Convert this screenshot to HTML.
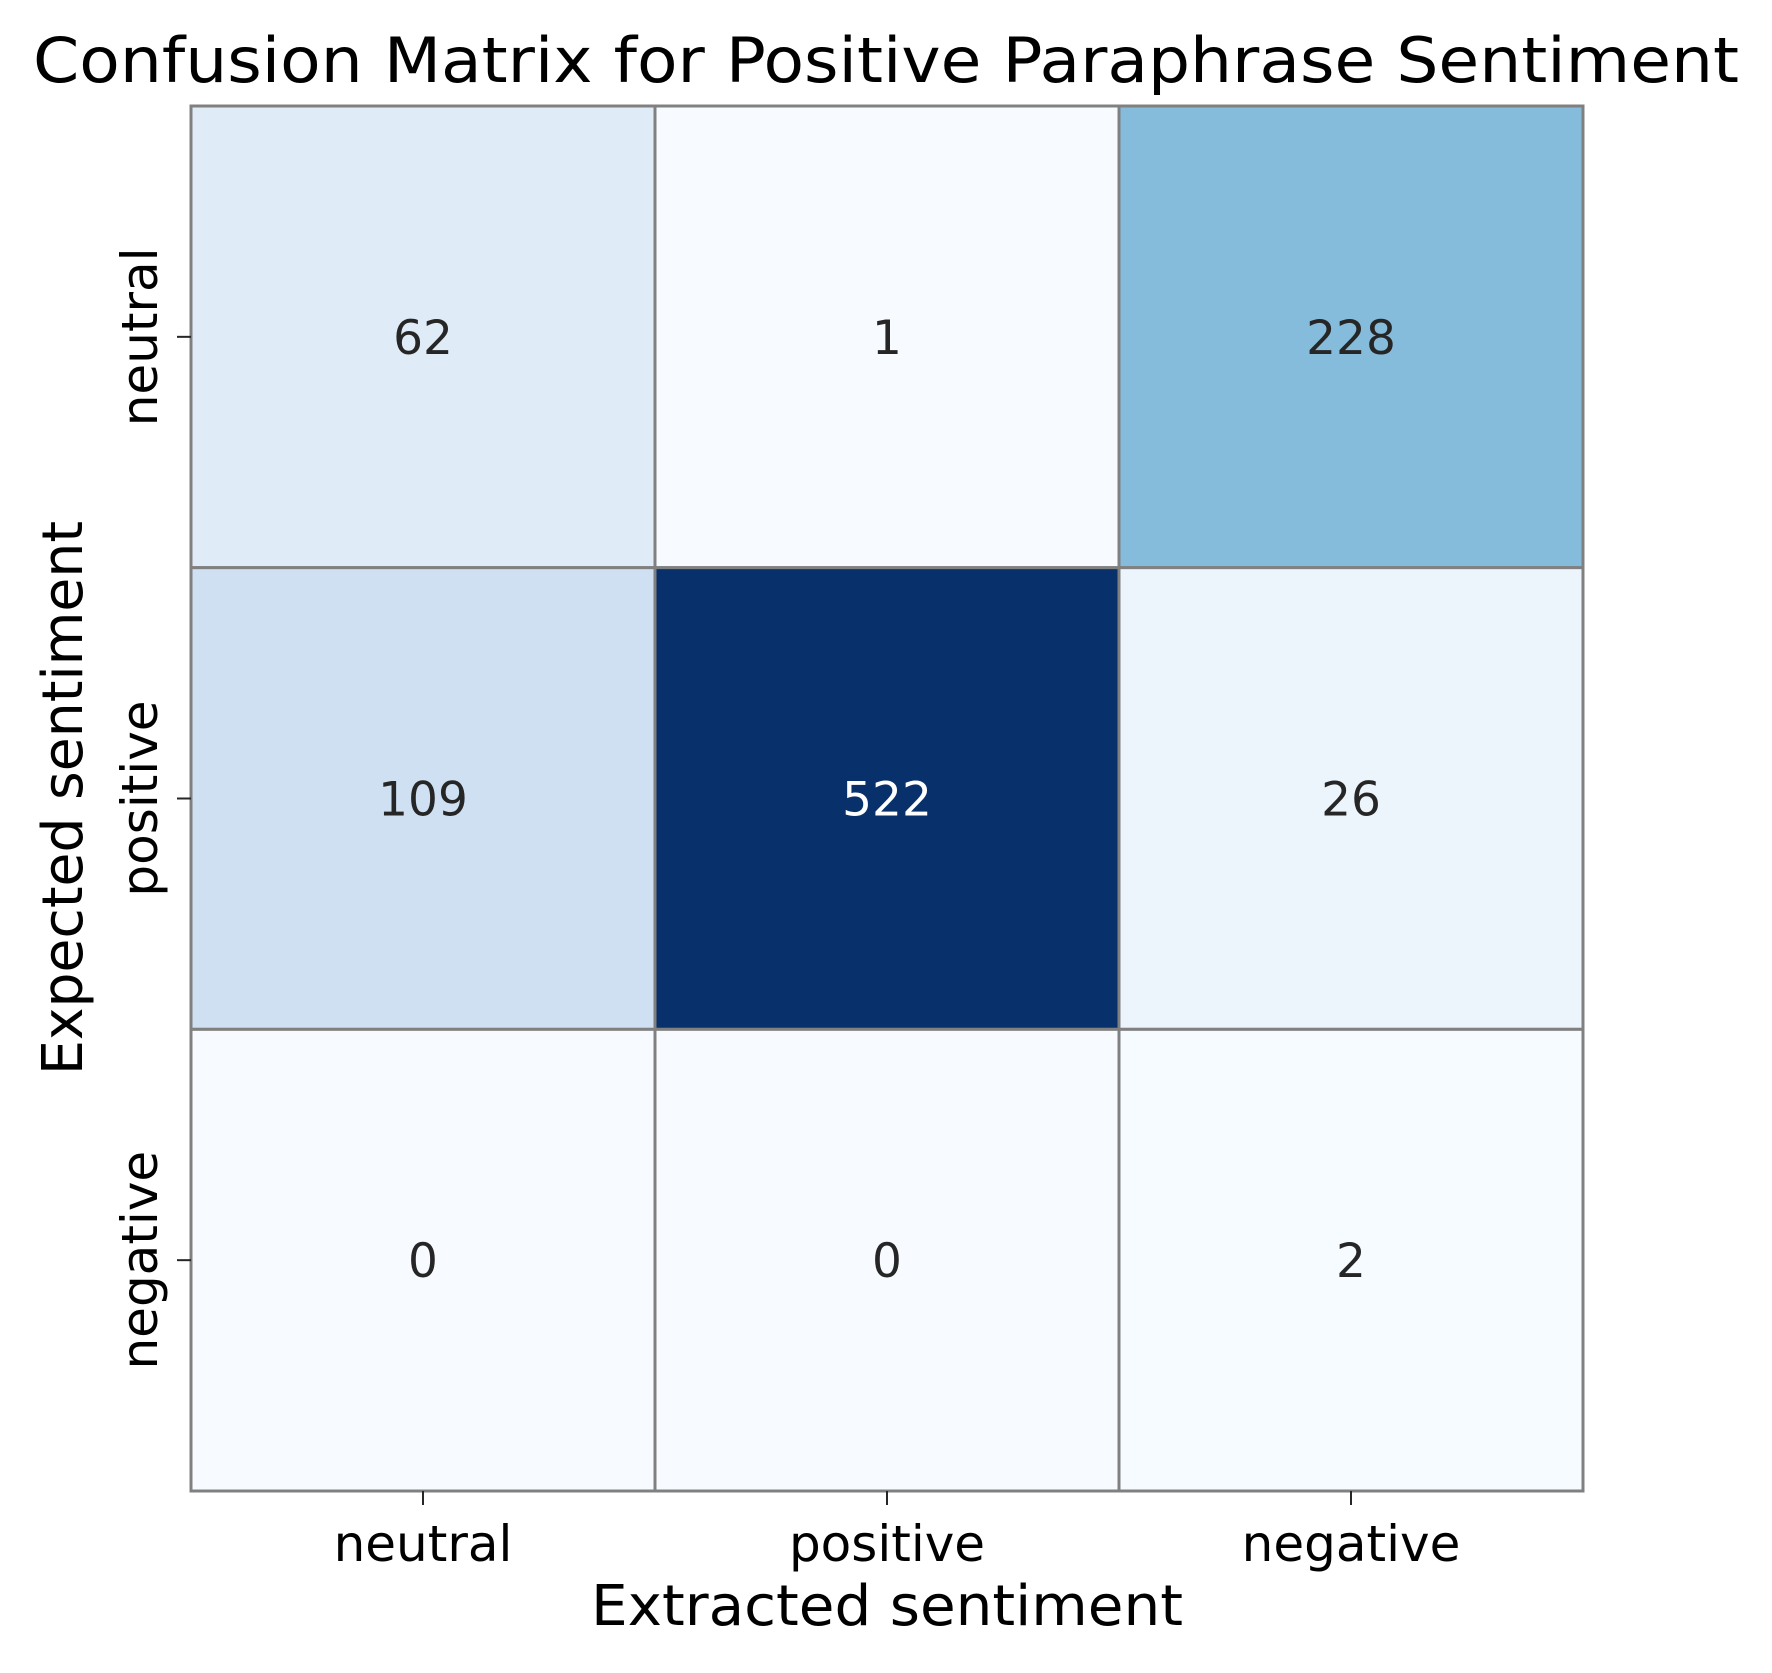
<!DOCTYPE html>
<html><head><meta charset="utf-8"><style>
html,body{margin:0;padding:0;background:#fff;}
svg{display:block;font-family:"DejaVu Sans","Liberation Sans",sans-serif;}
</style></head><body>
<svg id="chart" width="1772" height="1673" viewBox="0 0 1772 1673" xmlns="http://www.w3.org/2000/svg">
<text x="886" y="82" text-anchor="middle" font-size="62" fill="#000" textLength="1706" lengthAdjust="spacingAndGlyphs">Confusion Matrix for Positive Paraphrase Sentiment</text>
<g id="cells"></g>
<g id="ticks"></g>
<text x="887" y="1625" text-anchor="middle" font-size="56" fill="#000" textLength="592" lengthAdjust="spacingAndGlyphs">Extracted sentiment</text>
<text transform="translate(82,798) rotate(-90)" text-anchor="middle" font-size="56" fill="#000" textLength="554" lengthAdjust="spacingAndGlyphs">Expected sentiment</text>
</svg>
<script>
const rowLabels = ["neutral", "positive", "negative"];
const colLabels = ["neutral", "positive", "negative"];
const row0 = [62, 1, 228];
const row1 = [109, 522, 26];
const row2 = [0, 0, 2];
const matrix = [row0, row1, row2];

const NS = "http://www.w3.org/2000/svg";
const L = 191, T = 106, R = 1583, B = 1491;
const cw = (R - L) / colLabels.length, ch = (B - T) / rowLabels.length;
const xPos = i => L + i * cw;
const yPos = j => T + j * ch;
const stops = ["#f7fbff","#deebf7","#c6dbef","#9ecae1","#6baed6","#4292c6","#2171b5","#08519c","#08306b"];
function hex(h){return [1,3,5].map(k=>parseInt(h.substr(k,2),16));}
function blues(t){
  t = Math.max(0, Math.min(1, t));
  const p = t * (stops.length - 1), i = Math.min(Math.floor(p), stops.length - 2), f = p - i;
  const a = hex(stops[i]), b = hex(stops[i+1]);
  return "rgb(" + a.map((v,k)=>Math.round(v + (b[k]-v)*f)).join(",") + ")";
}
const all = matrix.flat();
const vmin = Math.min(...all), vmax = Math.max(...all);
const cells = document.getElementById("cells");
matrix.forEach((row, j) => row.forEach((v, i) => {
  const t = (v - vmin) / (vmax - vmin);
  const r = document.createElementNS(NS, "rect");
  
  
  r.setAttribute("x", xPos(i)); r.setAttribute("y", yPos(j));
  r.setAttribute("width", cw); r.setAttribute("height", ch);
  r.setAttribute("fill", blues(t)); r.setAttribute("stroke", "#808080"); r.setAttribute("stroke-width", "3");
  cells.appendChild(r);
  const tx = document.createElementNS(NS, "text");
  
  
  tx.setAttribute("x", xPos(i) + cw / 2); tx.setAttribute("y", yPos(j) + ch / 2 + 17);
  tx.setAttribute("text-anchor", "middle"); tx.setAttribute("font-size", "47");
  tx.setAttribute("fill", t > 0.5 ? "#ffffff" : "#262626");
  tx.textContent = v;
  cells.appendChild(tx);
}));
const ticks = document.getElementById("ticks");
colLabels.forEach((lab, i) => {
  const x = xPos(i) + cw / 2;
  const ln = document.createElementNS(NS, "line");
  
  
  ln.setAttribute("x1", x); ln.setAttribute("x2", x); ln.setAttribute("y1", B); ln.setAttribute("y2", B + 14);
  ln.setAttribute("stroke", "#262626"); ln.setAttribute("stroke-width", "2");
  ticks.appendChild(ln);
  const tx = document.createElementNS(NS, "text");
  
  
  tx.setAttribute("x", x); tx.setAttribute("y", 1561);
  tx.setAttribute("text-anchor", "middle"); tx.setAttribute("font-size", "50"); tx.setAttribute("fill", "#000");
  tx.textContent = lab;
  ticks.appendChild(tx);
});
rowLabels.forEach((lab, j) => {
  const y = yPos(j) + ch / 2;
  const ln = document.createElementNS(NS, "line");
  
  
  ln.setAttribute("x1", L - 14); ln.setAttribute("x2", L); ln.setAttribute("y1", y); ln.setAttribute("y2", y);
  ln.setAttribute("stroke", "#262626"); ln.setAttribute("stroke-width", "2");
  ticks.appendChild(ln);
  const tx = document.createElementNS(NS, "text");
  
  
  tx.setAttribute("transform", "translate(157," + y + ") rotate(-90)");
  tx.setAttribute("text-anchor", "middle"); tx.setAttribute("font-size", "50"); tx.setAttribute("fill", "#000");
  tx.textContent = lab;
  ticks.appendChild(tx);
});
</script>
</body></html>
